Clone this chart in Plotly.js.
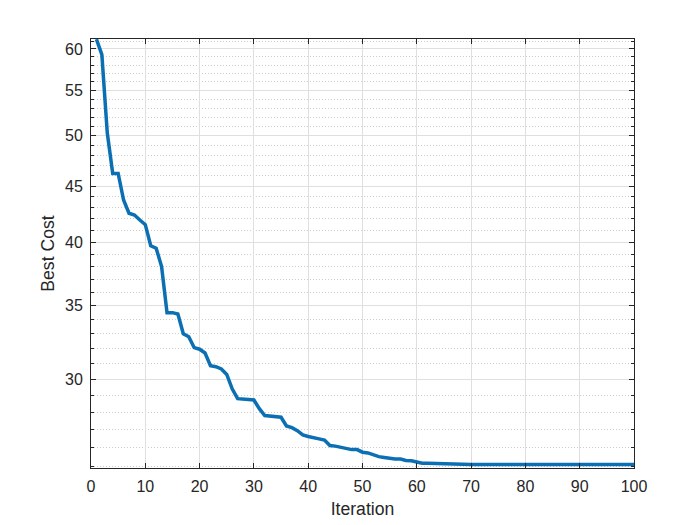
<!DOCTYPE html>
<html>
<head>
<meta charset="utf-8">
<script src="https://cdn.plot.ly/plotly-3.0.1.min.js"></script>
<style>html,body{margin:0;padding:0;background:#fff;}#chart{width:700px;height:525px;}</style>
</head>
<body>
<div id="chart"></div>
<script>
// Iteration numbers
var iterations = [];
for (var k = 1; k <= 100; k++) iterations.push(k);

// Best cost per iteration
var bestCost = [
  61.25, 59.3, 50.3, 46.2, 46.2, 43.7, 42.5, 42.35, 41.9, 41.5,
  39.7, 39.5, 38.0, 34.5, 34.5, 34.4, 33.0, 32.8, 32.06, 31.95,
  31.7, 30.86, 30.8, 30.65, 30.3, 29.4, 28.8, 28.75, 28.75, 28.72,
  28.2, 27.8, 27.75, 27.75, 27.7, 27.2, 27.1, 26.93, 26.69, 26.6,
  26.55, 26.47, 26.4, 26.1, 26.07, 26.0, 25.92, 25.88, 25.88, 25.74,
  25.7, 25.58, 25.5, 25.46, 25.4, 25.37, 25.37, 25.3, 25.28, 25.2,
  25.15, 25.15, 25.14, 25.13, 25.12, 25.08, 25.08, 25.08, 25.08, 25.08,
  25.08, 25.08, 25.08, 25.08, 25.08, 25.08, 25.08, 25.08, 25.08, 25.08,
  25.08, 25.08, 25.08, 25.08, 25.08, 25.08, 25.08, 25.08, 25.08, 25.08,
  25.08, 25.08, 25.08, 25.08, 25.08, 25.08, 25.08, 25.08, 25.08, 25.08
];

// Axis ticks
var xTicks = [0, 10, 20, 30, 40, 50, 60, 70, 80, 90, 100];
var yTicks = [30, 35, 40, 45, 50, 55, 60];
var yMinorTicks = [25, 26, 27, 28, 29, 31, 32, 33, 34, 36, 37, 38, 39, 41, 42, 43, 44,
                   46, 47, 48, 49, 51, 52, 53, 54, 56, 57, 58, 59, 61];
var yLimits = [24.9, 61.27];

var axisColor = '#262626';
var font = 'Liberation Sans, Arial, Helvetica, sans-serif';

var trace = {
  x: iterations,
  y: bestCost,
  type: 'scatter',
  mode: 'lines',
  line: {color: '#0a6fb3', width: 3.5},
  hoverinfo: 'x+y'
};

var layout = {
  width: 700,
  height: 525,
  paper_bgcolor: '#ffffff',
  plot_bgcolor: '#ffffff',
  margin: {l: 91, r: 66, t: 39, b: 57},
  showlegend: false,
  font: {family: font, size: 16, color: axisColor},
  xaxis: {
    range: [0, 100],
    tickmode: 'array',
    tickvals: xTicks,
    ticks: 'inside',
    ticklen: 5,
    tickwidth: 1,
    tickcolor: axisColor,
    showline: true,
    linecolor: axisColor,
    linewidth: 1,
    mirror: 'ticks',
    showgrid: true,
    gridcolor: '#dfdfdf',
    gridwidth: 1,
    zeroline: false,
    tickfont: {family: font, size: 16, color: axisColor},
    ticklabelstandoff: 4,
    title: {text: 'Iteration', font: {family: font, size: 17.6, color: axisColor}, standoff: 8}
  },
  yaxis: {
    type: 'log',
    range: [Math.log10(yLimits[0]), Math.log10(yLimits[1])],
    tickmode: 'array',
    tickvals: yTicks,
    ticktext: yTicks.map(String),
    ticks: 'inside',
    ticklen: 5,
    tickwidth: 1,
    tickcolor: axisColor,
    showline: true,
    linecolor: axisColor,
    linewidth: 1,
    mirror: 'ticks',
    showgrid: true,
    gridcolor: '#dfdfdf',
    gridwidth: 1,
    zeroline: false,
    tickfont: {family: font, size: 16, color: axisColor},
    ticklabelstandoff: 4,
    minor: {
      tickmode: 'array',
      tickvals: yMinorTicks,
      ticks: 'inside',
      ticklen: 3,
      tickcolor: axisColor,
      showgrid: true,
      gridcolor: '#cccccc',
      griddash: '1px,2px',
      gridwidth: 1
    },
    title: {text: 'Best Cost', font: {family: font, size: 17.6, color: axisColor}, standoff: 5}
  }
};

Plotly.newPlot('chart', [trace], layout, {displayModeBar: false, staticPlot: true});
</script>
</body>
</html>
